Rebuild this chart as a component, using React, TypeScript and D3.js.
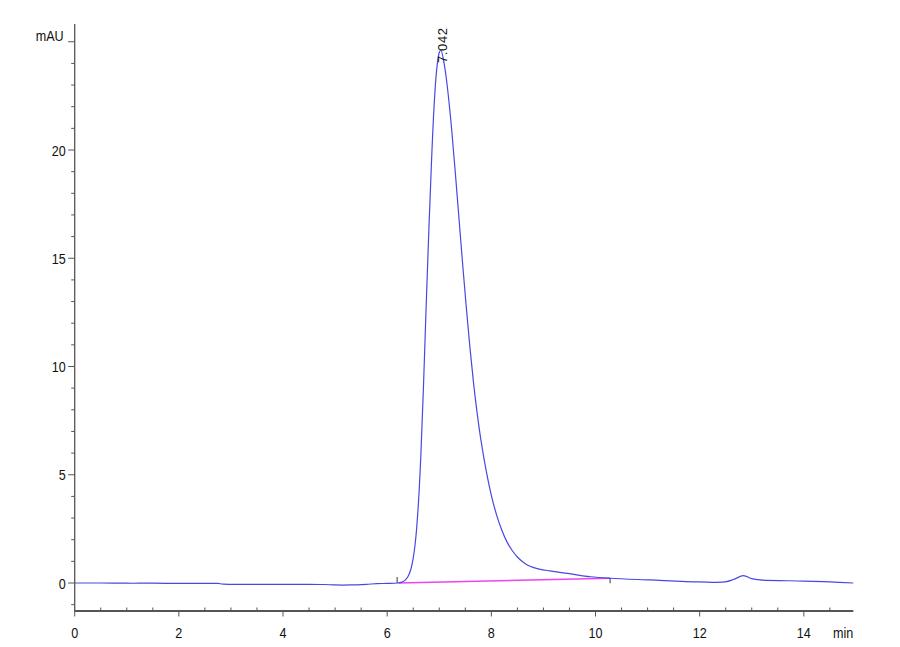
import React from "react";
import * as d3 from "d3";

// Signal trace (time in min, absorbance in mAU)
const traceTime = [
  0, 0.5, 1.0, 1.5, 2.0, 2.5, 2.75, 2.85, 3.5, 4.0, 4.5, 4.8, 5.0, 5.3, 5.6, 5.8, 6.0, 6.2,
  6.28, 6.34, 6.4, 6.45, 6.5, 6.55, 6.6, 6.65, 6.7, 6.75, 6.8, 6.85, 6.9, 6.95, 7.0, 7.03,
  7.1, 7.17, 7.24, 7.31, 7.38, 7.45, 7.52, 7.59, 7.66, 7.73, 7.8, 7.9, 8.0, 8.1, 8.2, 8.3,
  8.4, 8.5, 8.6, 8.7, 8.8, 8.94, 9.12, 9.5, 9.9, 10.28, 11.05, 12.0, 12.49, 12.65, 12.84,
  13.0, 13.16, 14.0, 14.5, 14.95,
];
const traceValue = [
  0.0, 0.0, -0.01, -0.01, -0.02, -0.02, -0.02, -0.05, -0.06, -0.06, -0.06, -0.07, -0.09, -0.09, -0.06, -0.03, -0.02, 0.0,
  0.04, 0.12, 0.3, 0.6, 1.15, 2.1, 3.7, 6.1, 9.3, 12.9, 16.3, 19.4, 22.0, 23.7, 24.5, 24.62,
  23.9, 22.6, 20.9, 18.9, 16.8, 14.7, 12.7, 10.85, 9.2, 7.8, 6.6, 5.2, 4.05, 3.15, 2.45, 1.9,
  1.5, 1.2, 0.98, 0.82, 0.72, 0.63, 0.56, 0.43, 0.29, 0.22, 0.14, 0.05, 0.05, 0.16, 0.34,
  0.2, 0.14, 0.09, 0.05, 0.0,
];

// Integration baseline (magenta)
const baselineTime = [6.22, 10.28];
const baselineValue = [0.0, 0.22];

// Peak annotation
const peakTime = 7.042;
const peakValue = 24.62;
const peakLabel = "7.042";

// Axis ticks
const xMajorTicks = [0, 2, 4, 6, 8, 10, 12, 14];
const xMinorTicks = d3.range(0.5, 15, 0.5).filter((t) => t % 2 !== 0);
const yMajorTicks = [0, 5, 10, 15, 20];
const yMinorTicks = d3.range(-1, 26, 1).filter((v) => v % 5 !== 0);
const yUnitValue = 25;
const yUnitLabel = "mAU";
const xUnitLabel = "min";

const W = 900;
const H = 647;

export default function App() {
  const x = d3.scaleLinear().domain([0, 14.95]).range([74.7, 853.3]);
  const y = d3.scaleLinear().domain([0, 20]).range([583, 150]);
  const yBottom = 611;
  const yTop = 24;

  const pts: [number, number][] = traceTime.map((t, i) => [t, traceValue[i]]);
  const line = d3
    .line<[number, number]>()
    .x((d) => x(d[0]))
    .y((d) => y(d[1]))
    .curve(d3.curveCatmullRom.alpha(0.5));

  const basePts: [number, number][] = baselineTime.map((t, i) => [t, baselineValue[i]]);
  const baseLine = d3
    .line<[number, number]>()
    .x((d) => x(d[0]))
    .y((d) => y(d[1]));

  const font = "'Liberation Sans', Arial, sans-serif";
  const axisColor = "#555";
  const sx = 0.84;

  const Label = ({ px, py, anchor, children }: { px: number; py: number; anchor: string; children: React.ReactNode }) => (
    <text
      transform={`translate(${px}, ${py}) scale(${sx}, 1)`}
      textAnchor={anchor as any}
      fontFamily={font}
      fontSize={15}
      fill="#111"
    >
      {children}
    </text>
  );

  return (
    <svg
      width={W}
      height={H}
      viewBox={`0 0 ${W} ${H}`}
      style={{ position: "absolute", left: 0, top: 0, background: "#fff" }}
    >
      <rect x={0} y={0} width={W} height={H} fill="#fff" />
      {/* Y axis */}
      <line x1={x(0)} x2={x(0)} y1={yTop} y2={yBottom} stroke={axisColor} strokeWidth={1.3} />
      {yMinorTicks.map((v) => (
        <line key={"ym" + v} x1={x(0) - 3.5} x2={x(0)} y1={y(v)} y2={y(v)} stroke={axisColor} strokeWidth={1} />
      ))}
      {yMajorTicks.map((v) => (
        <g key={"yM" + v}>
          <line x1={x(0) - 6.5} x2={x(0)} y1={y(v)} y2={y(v)} stroke={axisColor} strokeWidth={1} />
          <Label px={x(0) - 9} py={y(v) + 5.5} anchor="end">
            {v}
          </Label>
        </g>
      ))}
      <line x1={x(0) - 6.5} x2={x(0)} y1={y(yUnitValue)} y2={y(yUnitValue)} stroke={axisColor} strokeWidth={1} />
      <Label px={x(0) - 11} py={y(yUnitValue) - 0.5} anchor="end">
        {yUnitLabel}
      </Label>

      {/* X axis */}
      <line x1={x(0)} x2={x(14.95)} y1={yBottom} y2={yBottom} stroke={axisColor} strokeWidth={2} />
      {xMinorTicks.map((t) => (
        <line key={"xm" + t} x1={x(t)} x2={x(t)} y1={yBottom - 3.5} y2={yBottom} stroke={axisColor} strokeWidth={1} />
      ))}
      {xMajorTicks.map((t) => (
        <g key={"xM" + t}>
          <line x1={x(t)} x2={x(t)} y1={yBottom} y2={yBottom + 5.5} stroke={axisColor} strokeWidth={1} />
          <Label px={x(t)} py={637.5} anchor="middle">
            {t}
          </Label>
        </g>
      ))}
      <Label px={x(14.95)} py={637.5} anchor="end">
        {xUnitLabel}
      </Label>

      {/* Integration baseline */}
      <path d={baseLine(basePts) || ""} fill="none" stroke="#ee44ee" strokeWidth={1.5} />
      <line
        x1={x(baselineTime[0]) - 1.5}
        x2={x(baselineTime[0]) - 1.5}
        y1={y(baselineValue[0]) - 6}
        y2={y(baselineValue[0])}
        stroke="#333"
        strokeWidth={1}
      />
      <line
        x1={x(baselineTime[1])}
        x2={x(baselineTime[1])}
        y1={y(baselineValue[1])}
        y2={y(baselineValue[1]) + 5}
        stroke="#333"
        strokeWidth={1}
      />

      {/* Signal */}
      <path d={line(pts) || ""} fill="none" stroke="#4848e4" strokeWidth={1.2} />

      {/* Peak label */}
      <text
        transform={`translate(${x(peakTime) + 5.5}, ${y(peakValue) + 13}) rotate(-90)`}
        fontFamily={font}
        fontSize={13}
        letterSpacing={0.6}
        fill="#111"
      >
        {peakLabel}
      </text>
    </svg>
  );
}
